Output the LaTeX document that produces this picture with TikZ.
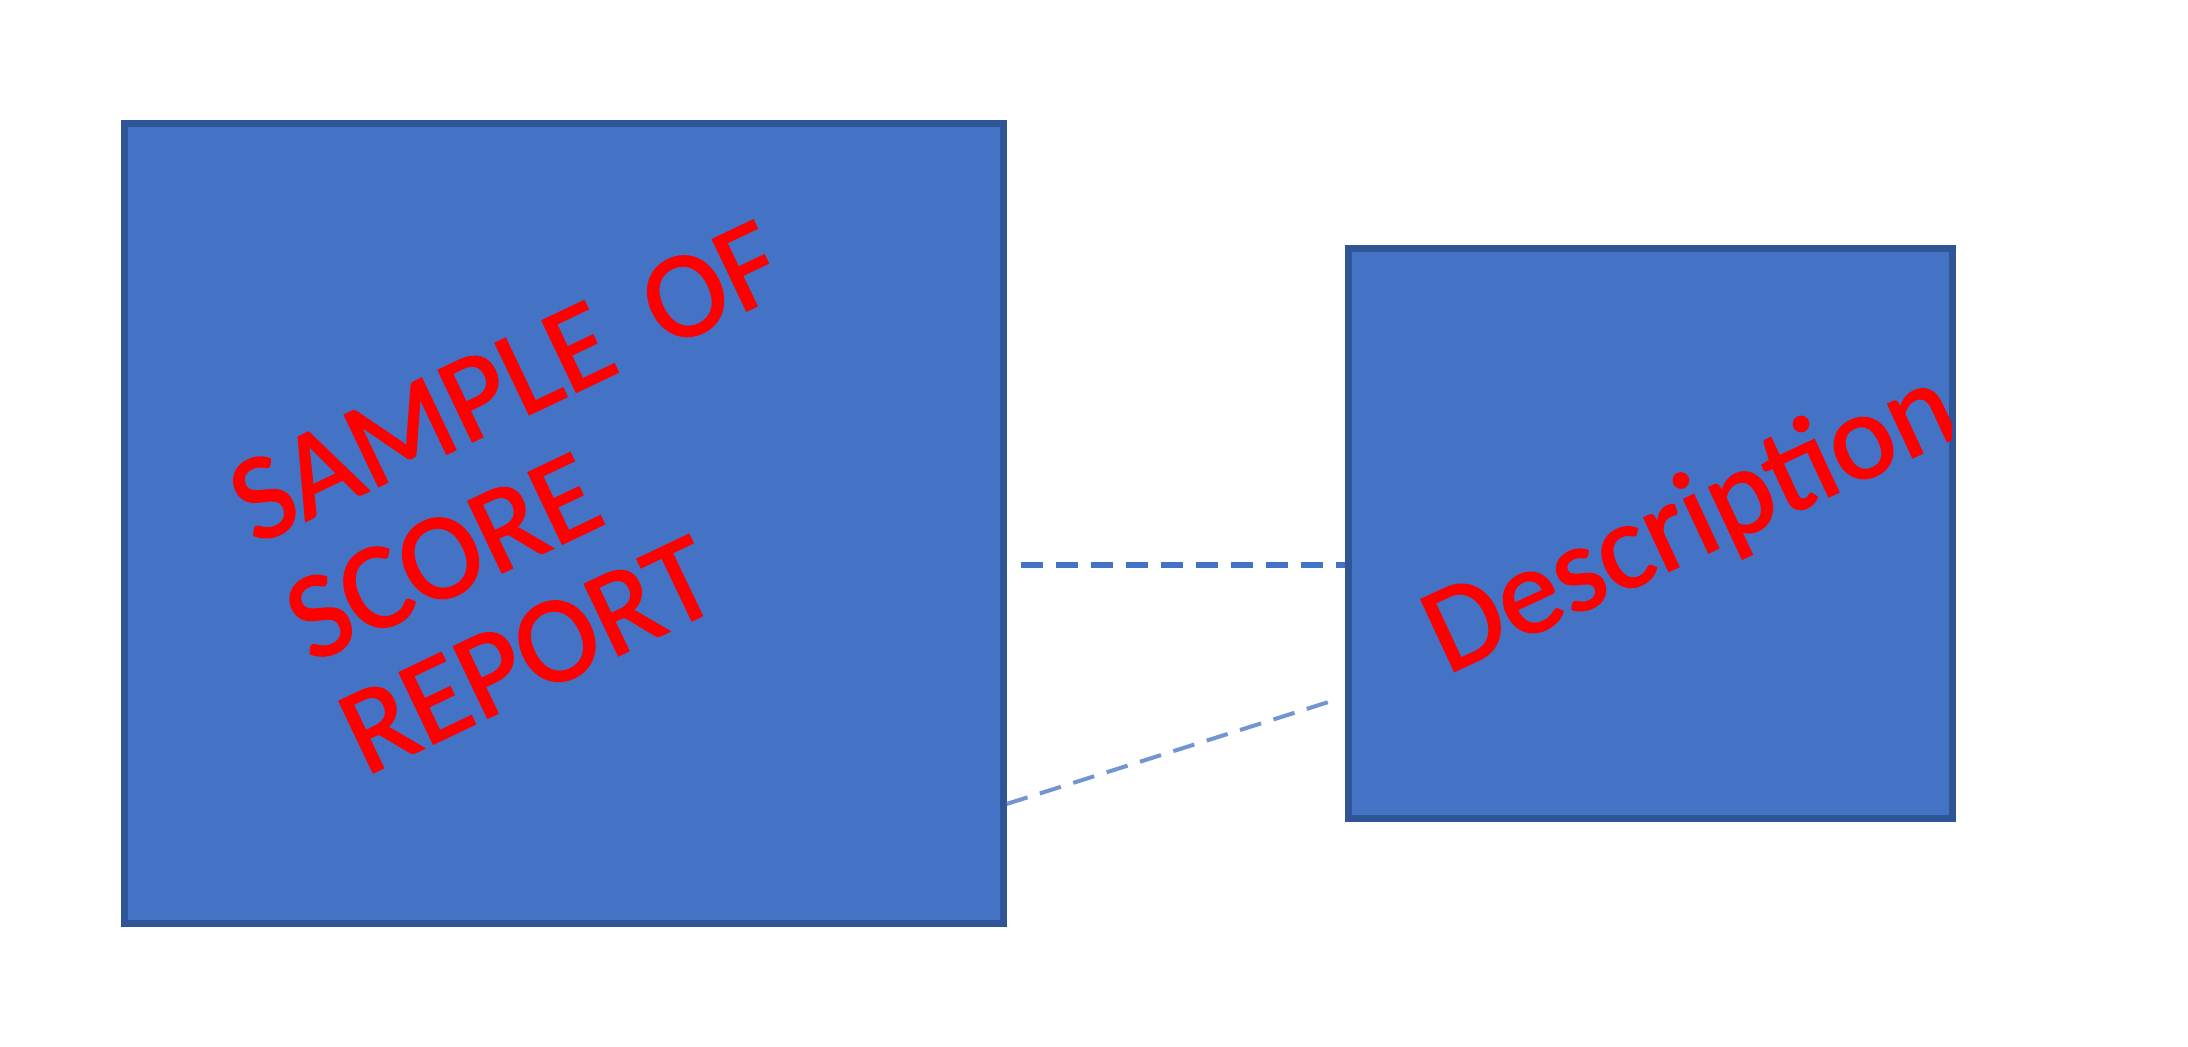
\documentclass[tikz,border=0pt]{standalone}
\usepackage{fontspec}
\setmainfont{Carlito}
\newfontfamily\labelfont[FakeBold=1.5]{Carlito}
\definecolor{boxfill}{HTML}{4472C4}
\definecolor{boxline}{HTML}{2F5597}
\definecolor{txtred}{HTML}{FF0000}
\begin{document}
\begin{tikzpicture}[x=0.5pt,y=-0.5pt,
  panel/.style={draw=boxline, fill=boxfill, line width=3.5pt, rectangle, inner sep=0pt},
  redtext/.style={text=txtred, font=\labelfont\fontsize{61.5}{64}\selectfont, inner sep=0pt, anchor=base west},
  link/.style={draw=boxfill, line width=3pt, dash pattern=on 11pt off 6.5pt}]
\useasboundingbox (0,0) rectangle (2188,1047);
\fill[white] (0,0) rectangle (2188,1047);
\node[panel, minimum width=439.5pt, minimum height=399.5pt] (lbox) at (563.5,523.5) {};
\node[panel, minimum width=302pt, minimum height=284.5pt] (rbox) at (1650,533.5) {};
\node[redtext, rotate=25.5] (l1) at (254.8,545.4) {SAMPLE\hspace{10pt} OF};
\node[redtext, rotate=25.5] (l2) at (311.2,663.7) {SCORE};
\node[redtext, rotate=25.5] (l3) at (365,776.5) {REPORT};
\begin{scope}
\clip ([shift={(1.75pt,-1.75pt)}]rbox.north west) rectangle ([shift={(-1.75pt,1.75pt)}]rbox.south east);
\node[redtext, rotate=25] (desc) at (1446.7,674.8) {Description};
\end{scope}
\coordinate (hs) at (1021,565);
\draw[link] (hs) -- (hs -| rbox.west);
\coordinate (de) at (1338,699);
\draw[link, line width=2pt, draw opacity=0.75] (lbox.east |- 0,804) -- (de);
\end{tikzpicture}
\end{document}
